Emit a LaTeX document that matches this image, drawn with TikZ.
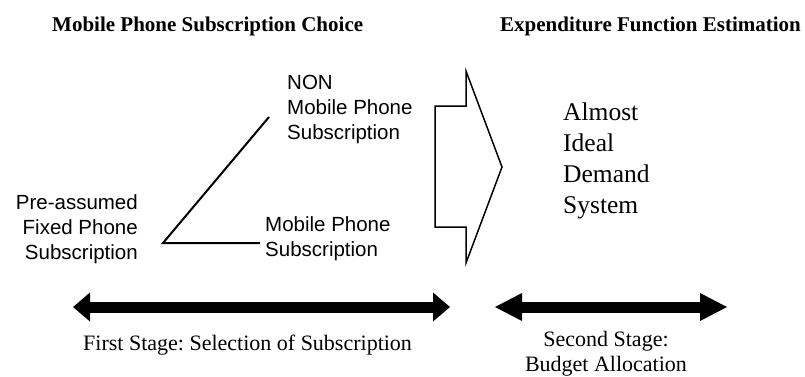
\documentclass[tikz,border=0pt]{standalone}
\usepackage{fontspec}
\setmainfont{Liberation Serif}
\setsansfont{Liberation Sans}
\usetikzlibrary{arrows.meta}
\frenchspacing
\begin{document}
\begin{tikzpicture}[x=1pt,y=-1pt,
  title/.style={font=\bfseries\fontsize{21pt}{25pt}\selectfont, inner sep=0pt},
  sanslabel/.style={font=\sffamily\fontsize{20.5pt}{25pt}\selectfont, inner sep=0pt},
  serifbig/.style={font=\fontsize{25.5pt}{31pt}\selectfont, inner sep=0pt, align=left},
  stagelabel/.style={font=\fontsize{22pt}{25pt}\selectfont, inner sep=0pt},
  branch/.style={line width=2pt},
  stagearrowA/.style={line width=11pt, {Triangle[length=17pt,width=29pt,line width=0pt]}-{Triangle[length=17pt,width=29pt,line width=0pt]}},
  stagearrowB/.style={line width=11pt, {Triangle[length=27pt,width=28pt,line width=0pt]}-{Triangle[length=27pt,width=28pt,line width=0pt]}},
  bigarrow/.style={draw, line width=1.5pt, line join=miter}
]
\useasboundingbox (0,0) rectangle (805,376);
\node[title, anchor=west] (t1) at (52,26) {Mobile Phone Subscription Choice};
\node[title, anchor=west] (t2) at (500,26) {Expenditure Function Estimation};
\node[sanslabel, align=right, anchor=east] (fixed) at (138,229) {Pre-assumed\\Fixed Phone\\Subscription};
\node[sanslabel, align=left, anchor=west] (non) at (287,109) {NON\\Mobile Phone\\Subscription};
\node[sanslabel, align=left, anchor=west] (mob) at (265,239) {Mobile Phone\\Subscription};
\coordinate (v) at (163,243);
\coordinate (vt) at (269,117);
\coordinate (vh) at (260,243);
\draw[branch] (vt) -- (v) -- (vh);
\draw[bigarrow] (435,106) -- (466,106) -- (466,71) -- (502,167) -- (466,263) -- (466,227) -- (435,227) -- cycle;
\node[serifbig, anchor=west] (aids) at (563,161) {Almost\\Ideal\\Demand\\System};
\coordinate (s1l) at (73,307);
\coordinate (s1r) at (450,307);
\draw[stagearrowA] (s1l) -- (s1r);
\coordinate (s2l) at (495,307);
\coordinate (s2r) at (727,307);
\draw[stagearrowB] (s2l) -- (s2r);
\node[stagelabel, anchor=west] (st1) at (83,345) {First Stage: Selection of Subscription};
\node[stagelabel, align=center] (st2) at (606,354) {Second Stage:\\Budget Allocation};
\end{tikzpicture}
\end{document}
